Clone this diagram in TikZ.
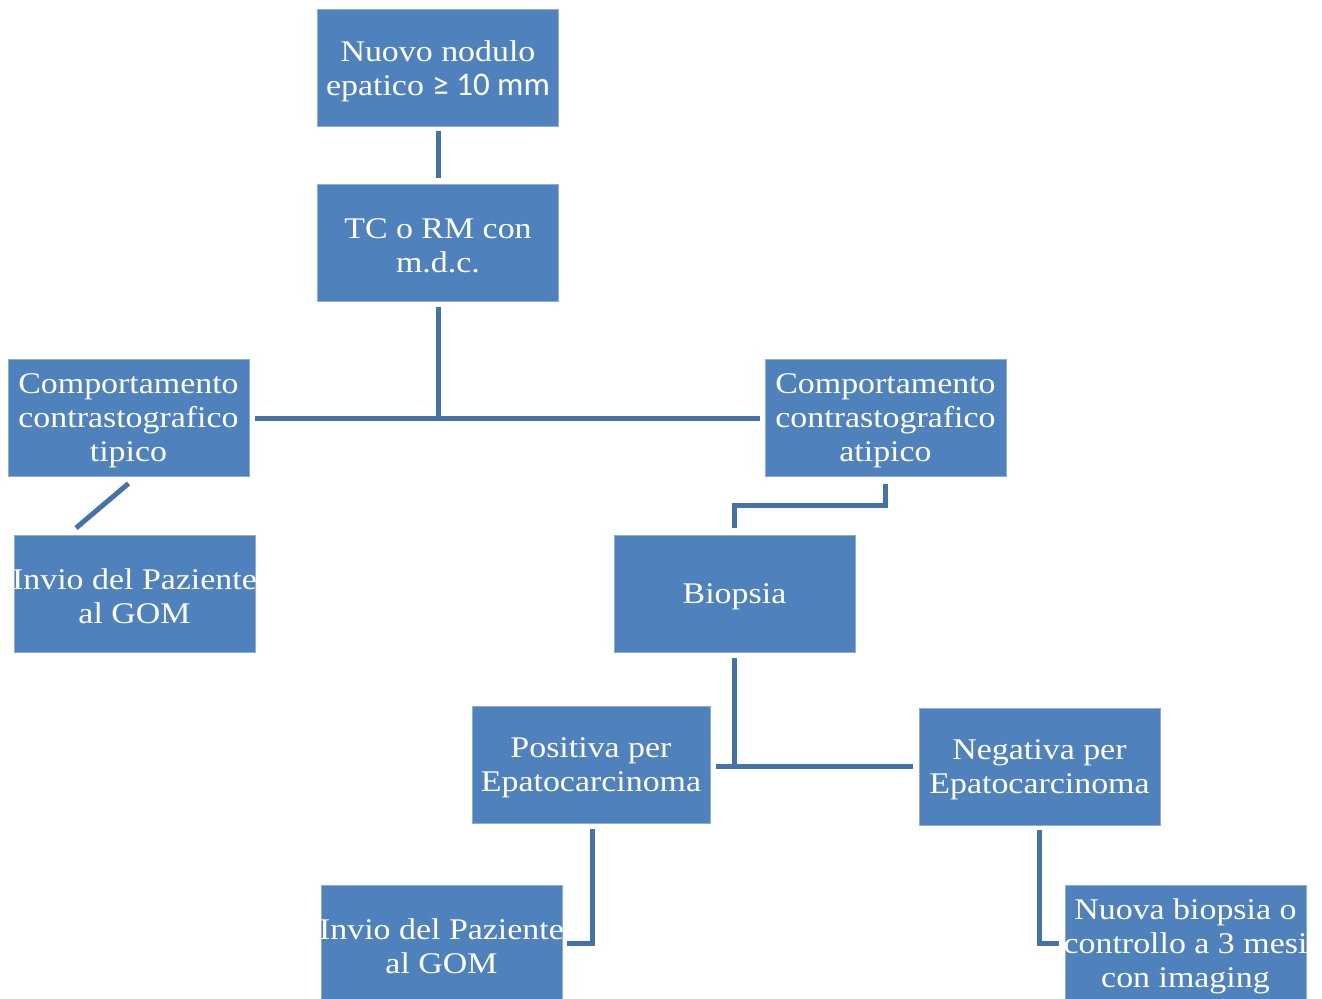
\documentclass[tikz,border=0pt]{standalone}
\usepackage{fontspec}
\setmainfont[FakeStretch=1.13]{Liberation Serif}
\newfontfamily\calib[Scale=1.1]{Carlito}
\usetikzlibrary{calc}
\definecolor{boxfill}{HTML}{4F81BD}
\definecolor{boxedge}{HTML}{8DAEDA}
\definecolor{conn}{HTML}{4672AA}
\tikzset{
  box/.style={draw=boxedge, line width=0.6pt, fill=boxfill, minimum width=180.75pt, minimum height=87.75pt, inner sep=0pt, outer sep=0pt},
  txt/.style={text=white, align=center, inner sep=0pt, font=\fontsize{22.5}{25.5}\selectfont},
  conn/.style={draw=conn, line width=3.75pt, line cap=butt, line join=miter}
}
\newcommand\mybox[3]{\node[box] (#1) at (#2) {}; \node[txt] (#1-t) at ($(#1.center)+(0,3)$) {#3};}
\begin{document}
\begin{tikzpicture}[x=0.75pt, y=-0.75pt]
\useasboundingbox (0,0) rectangle (1322,999);
\mybox{nuovo}{438,68}{Nuovo nodulo\\epatico {\calib ≥ 10 mm}}
\mybox{tc}{438,242.5}{TC o RM con\\m.d.c.}
\mybox{tip}{128.5,418}{Comportamento\\contrastografico\\tipico}
\mybox{ati}{885.5,418}{Comportamento\\contrastografico\\atipico}
\mybox{inv1}{134.5,593.5}{Invio del Paziente\\al GOM}
\mybox{bio}{734.5,593.5}{Biopsia}
\node[box, minimum width=178.5pt] (pos) at (591,764.5) {};
\node[txt] at ($(pos.center)+(0,3)$) {Positiva per\\Epatocarcinoma};
\mybox{neg}{1039.5,766.5}{Negativa per\\Epatocarcinoma}
\mybox{inv2}{441.5,943.5}{Invio del Paziente\\al GOM}
\mybox{nuova}{1185.5,943.5}{Nuova biopsia o\\controllo a 3 mesi\\con imaging}

\draw[conn] ($(nuovo.south)+(0,5)$) -- ($(tc.north)+(0,-6)$);
\draw[conn] ($(tc.south)+(0,6)$) -- (tc.south |- tip.east);
\draw[conn] ($(tip.east)+(6,0)$) -- ($(ati.west)+(-5,0)$);
\draw[conn] ($(tip.south)+(0,7)$) -- ($(inv1.north)+(-58.5,-7)$);
\draw[conn] ($(ati.south)+(0,7)$) -- ++(0,22) -| ($(bio.north)+(0,-7)$);
\draw[conn] ($(bio.south)+(0,6)$) -- ++(0,108);
\draw[conn] ($(pos.east)+(6,1.5)$) -- ($(neg.west)+(-6,-0.5)$);
\draw[conn] ($(pos.south)+(1,6)$) |- ($(inv2.east)+(5,0)$);
\draw[conn] ($(neg.south)+(0,5)$) |- ($(nuova.west)+(-6,0)$);
\end{tikzpicture}
\end{document}
